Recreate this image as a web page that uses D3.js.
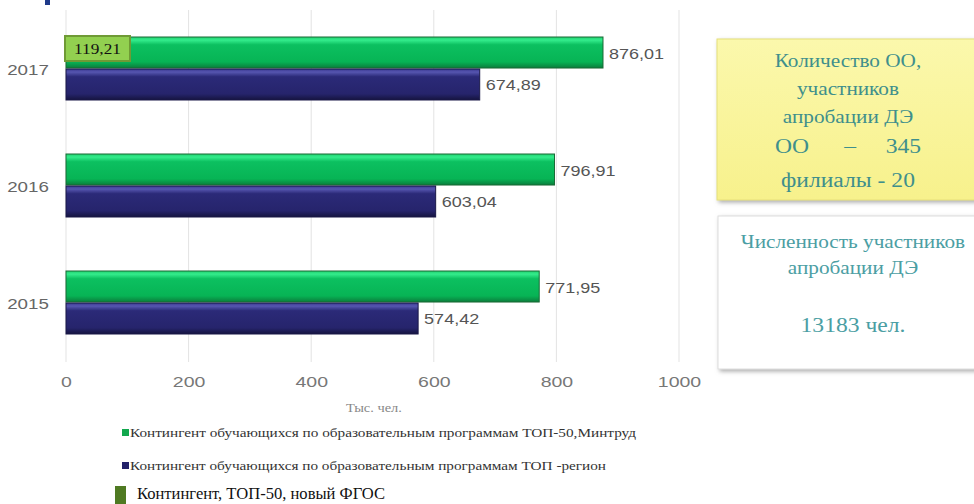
<!DOCTYPE html>
<html><head><meta charset="utf-8">
<script src="https://cdn.jsdelivr.net/npm/d3@7"></script>
<style>body{margin:0;background:#fff;}svg{display:block;}</style>
</head><body>
<script>
const years = ["2017", "2016", "2015"];
const top50 = [876.01, 796.91, 771.95];
const region = [674.89, 603.04, 574.42];
const newFgos = [{year: "2017", value: 119.21}];
const xTicks = [0, 200, 400, 600, 800, 1000];
const seriesNames = [
  "Контингент обучающихся по образовательным программам ТОП-50,Минтруд",
  "Контингент обучающихся по образовательным программам ТОП -регион",
  "Контингент, ТОП-50, новый ФГОС"
];
const fmt = v => d3.format(".2f")(v).replace(".", ",");

const W = 974, H = 504;
const svg = d3.select("body").append("svg").attr("width", W).attr("height", H);
const defs = svg.append("defs");
function grad(id, stops) {
  const g = defs.append("linearGradient").attr("id", id).attr("x1", 0).attr("y1", 0).attr("x2", 0).attr("y2", 1);
  stops.forEach(s => g.append("stop").attr("offset", s[0]).attr("stop-color", s[1]));
}
grad("gGreen", [[0, "#1fd06e"], [0.1, "#34ec8c"], [0.25, "#0cc060"], [0.8, "#07b455"], [1, "#0a7d3c"]]);
grad("gNavy", [[0, "#3a3890"], [0.1, "#5656b0"], [0.25, "#2b2a78"], [0.8, "#26246c"], [1, "#15143f"]]);
grad("gYellow", [[0, "#fbf8ac"], [1, "#f7f18c"]]);
const sh = defs.append("filter").attr("id", "shadow").attr("x", "-10%").attr("y", "-10%").attr("width", "130%").attr("height", "130%");
sh.append("feDropShadow").attr("dx", 2).attr("dy", 2).attr("stdDeviation", 2).attr("flood-color", "#888").attr("flood-opacity", 0.7);

function stretch(sel, k) {
  sel.each(function () {
    const w = this.getComputedTextLength();
    d3.select(this).attr("textLength", w * k).attr("lengthAdjust", "spacingAndGlyphs");
  });
}

const x = d3.scaleLinear().domain([0, 1000]).range([66, 679]);
const y = d3.scaleBand().domain(years).range([10, 361]).paddingInner(0);
const sub = d3.scaleBand().domain(["top50", "region"]).range([0, 63]).paddingInner(0.03);
const barOff = (y.bandwidth() - 63) / 2;

// title fragment at top-left
svg.append("rect").attr("x", 45).attr("y", 0).attr("width", 5).attr("height", 5).attr("fill", "#1f3a8a");

// gridlines
svg.append("g").selectAll("line").data(xTicks).join("line")
  .attr("x1", d => x(d)).attr("x2", d => x(d)).attr("y1", 10).attr("y2", 362)
  .attr("stroke", "#e3e3e3").attr("stroke-width", 1);

// axis tick labels via d3 axis
const ax = svg.append("g").attr("transform", "translate(0,362)")
  .call(d3.axisBottom(x).tickValues(xTicks).tickSize(0).tickPadding(14).tickFormat(d3.format("d")));
ax.select(".domain").remove();
ax.selectAll("text").attr("font-family", "Liberation Sans, Arial").attr("font-size", 15).attr("fill", "#777");
stretch(ax.selectAll("text"), 1.3);

// year labels
const yl = svg.append("g").selectAll("text").data(years).join("text")
  .attr("x", 28).attr("y", d => y(d) + y.bandwidth() / 2 + 6)
  .attr("text-anchor", "middle").attr("font-family", "Liberation Sans, Arial").attr("font-size", 15).attr("fill", "#666")
  .text(d => d);
stretch(yl, 1.25);

const rows = years.map((yr, i) => ({year: yr, top50: top50[i], region: region[i]}));
const series = [
  {key: "top50", fill: "url(#gGreen)", stroke: "#1b6a36"},
  {key: "region", fill: "url(#gNavy)", stroke: "#1a1948"}
];
series.forEach(s => {
  const g = svg.append("g");
  g.selectAll("rect").data(rows).join("rect")
    .attr("x", x(0)).attr("y", d => y(d.year) + barOff + sub(s.key))
    .attr("width", d => x(d[s.key]) - x(0)).attr("height", sub.bandwidth())
    .attr("fill", s.fill).attr("stroke", s.stroke).attr("stroke-width", 1);
  const t = g.selectAll("text").data(rows).join("text")
    .attr("x", d => x(d[s.key]) + 6).attr("y", d => y(d.year) + barOff + sub(s.key) + sub.bandwidth() / 2 + 6)
    .attr("font-family", "Liberation Sans, Arial").attr("font-size", 15).attr("fill", "#555")
    .text(d => fmt(d[s.key]));
  stretch(t, 1.2);
});

// new FGOS label box
const nf = svg.append("g").selectAll("g").data(newFgos).join("g")
  .attr("transform", d => `translate(${x(0) - 1},${y(d.year) + barOff - 1})`);
nf.append("rect").attr("width", 65).attr("height", 25).attr("fill", "#92d050").attr("stroke", "#6f9a35").attr("stroke-width", 2);
const nft = nf.append("text").attr("x", 32.5).attr("y", 18).attr("text-anchor", "middle")
  .attr("font-family", "Liberation Serif, Times New Roman").attr("font-size", 15).attr("fill", "#111")
  .text(d => fmt(d.value));
stretch(nft, 1.15);

// axis title
const at = svg.append("text").attr("x", 374).attr("y", 412).attr("text-anchor", "middle")
  .attr("font-family", "Liberation Serif, Times New Roman").attr("font-size", 12).attr("fill", "#888").text("Тыс. чел.");
stretch(at, 1.2);

// legend
const leg = [
  {name: seriesNames[0], color: "#12a84e", y: 437, fs: 13, tc: "#333", tx: 130, mx: 122, w: 506},
  {name: seriesNames[1], color: "#23226a", y: 470, fs: 13, tc: "#333", tx: 130, mx: 122, w: 476},
  {name: seriesNames[2], color: "#4f7a22", y: 499, fs: 16, tc: "#111", tx: 137, mx: 115, w: 248}
];
leg.forEach((l, i) => {
  if (i < 2) svg.append("rect").attr("x", l.mx).attr("y", l.y - 8).attr("width", 7).attr("height", 7).attr("fill", l.color);
  else svg.append("rect").attr("x", l.mx).attr("y", 486).attr("width", 11).attr("height", 18).attr("fill", l.color);
  svg.append("text").attr("x", l.tx).attr("y", l.y).attr("font-family", "Liberation Serif, Times New Roman")
    .attr("font-size", l.fs).attr("fill", l.tc).attr("textLength", l.w).attr("lengthAdjust", "spacingAndGlyphs").text(l.name);
});

// side boxes
const box1 = svg.append("g");
box1.append("rect").attr("x", 717).attr("y", 39).attr("width", 262).attr("height", 161)
  .attr("fill", "url(#gYellow)").attr("stroke", "#e6df7a").attr("stroke-width", 1).attr("filter", "url(#shadow)");
const b1 = [["Количество ОО,", 67, 18], ["участников", 95, 18], ["апробации ДЭ", 123, 18], ["ОО      –     345", 153, 20], ["филиалы - 20", 187, 20]];
const b1t = box1.selectAll("text").data(b1).join("text").attr("x", 848).attr("y", d => d[1]).attr("text-anchor", "middle")
  .attr("font-family", "Liberation Serif, Times New Roman").attr("font-size", d => d[2])
  .attr("fill", "#3f8f8c").style("white-space", "pre").text(d => d[0]);
stretch(b1t, 1.18);

const box2 = svg.append("g");
box2.append("rect").attr("x", 718).attr("y", 216).attr("width", 262).attr("height", 153)
  .attr("fill", "#fff").attr("stroke", "#ddd").attr("stroke-width", 1).attr("filter", "url(#shadow)");
const b2 = [["Численность участников", 248, 18], ["апробации ДЭ", 274, 18], ["13183 чел.", 332, 20]];
const b2t = box2.selectAll("text").data(b2).join("text").attr("x", 853).attr("y", d => d[1]).attr("text-anchor", "middle")
  .attr("font-family", "Liberation Serif, Times New Roman").attr("font-size", d => d[2])
  .attr("fill", "#4b9ea3").text(d => d[0]);
stretch(b2t, 1.18);
</script>
</body></html>
